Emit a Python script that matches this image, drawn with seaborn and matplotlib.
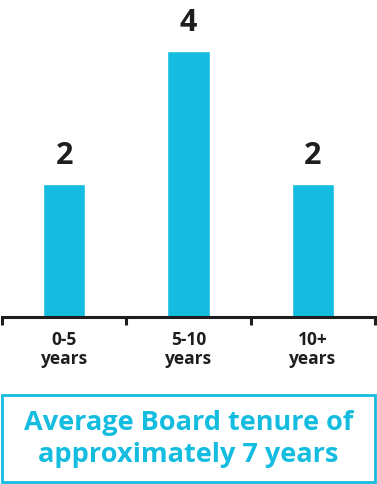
import matplotlib.pyplot as plt
import matplotlib.patches as mpatches
import pandas as pd
import seaborn as sns

# data
categories = ["0-5\nyears", "5-10\nyears", "10+\nyears"]
counts = [2, 4, 2]
caption = "Average Board tenure of\napproximately 7 years"

cyan = "#14BDE0"
dark = "#1E1E1E"

sns.set_style("white")
plt.rcParams["font.family"] = ["Open Sans", "DejaVu Sans"]

df = pd.DataFrame({"cat": categories, "n": counts})

W, H = 377, 484
fig = plt.figure(figsize=(W / 100, H / 100), dpi=100)
ax = fig.add_axes([2 / W, (H - 317) / H, 373 / W, 317 / H])

sns.barplot(data=df, x="cat", y="n", color=cyan, width=0.34, saturation=1, ax=ax)

ax.set_xlim(-0.5, 2.5)
ax.set_ylim(0, 317 / 66.5)
ax.set_xlabel("")
ax.set_ylabel("")
ax.set_yticks([])
for s in ["top", "right", "left"]:
    ax.spines[s].set_visible(False)
ax.spines["bottom"].set_linewidth(2.2)
ax.spines["bottom"].set_color(dark)

# ticks between the categories
ax.set_xticks([-0.5, 0.5, 1.5, 2.5], minor=True)
ax.tick_params(axis="x", which="minor", length=6, width=2.2, color=dark, direction="out", bottom=True)
ax.tick_params(axis="x", which="major", length=0, pad=10, labelsize=12.5, labelcolor=dark)
for lab in ax.get_xticklabels():
    lab.set_fontweight("bold")
    lab.set_linespacing(1.1)

for i, v in enumerate(counts):
    ax.text(i, v + 0.2, str(v), ha="center", va="bottom", fontsize=22,
            fontweight="bold", color=dark)

# caption box
box = mpatches.Rectangle((1.5 / W, 2 / H), 373.5 / W, 87 / H, transform=fig.transFigure,
                         fill=False, edgecolor=cyan, linewidth=2)
fig.patches.append(box)
fig.text(0.5, (H - 439) / H, caption, ha="center", va="center", fontsize=19.5,
         fontweight="bold", color=cyan, linespacing=1.35)

fig.savefig("out.png", dpi=100)
